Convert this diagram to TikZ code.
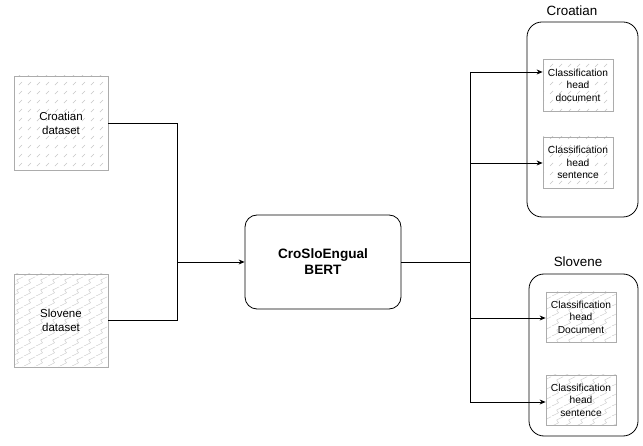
\documentclass[tikz,border=0pt]{standalone}
\usepackage{fontspec}
\setmainfont{Liberation Sans}
\usetikzlibrary{patterns.meta,arrows.meta,calc}
\tikzdeclarepattern{
  name=hatchdash, type=uncolored,
  bottom left={(0pt,0pt)}, top right={(9pt,9pt)}, tile size={(9pt,9pt)},
  code={\draw[line width=0.5pt] (1pt,1pt) -- (4.5pt,4.5pt);}
}
\tikzdeclarepattern{
  name=zigzagp, type=uncolored,
  bottom left={(0pt,0pt)}, top right={(12pt,10pt)}, tile size={(12pt,10pt)},
  code={\draw[line width=0.5pt] (0pt,0pt) -- (7pt,3.5pt) -- (5pt,6.5pt) -- (12pt,10pt);}
}
\tikzset{
  databox/.style={draw=gray!65, line width=0.8pt, inner sep=0pt, align=center,
    font=\fontsize{11.5}{14}\selectfont, minimum width=94pt},
  headbox/.style={draw=gray!65, line width=0.8pt, inner sep=0pt, align=center,
    font=\fontsize{10.2}{12.5}\selectfont, minimum width=70pt, minimum height=51pt},
  crpat/.style={pattern=hatchdash, pattern color=gray!45},
  slpat/.style={pattern=zigzagp, pattern color=gray!40},
  groupbox/.style={draw=black, line width=0.8pt, rounded corners=15pt, inner sep=0pt},
  grouptitle/.style={font=\fontsize{13.4}{16}\selectfont, inner sep=0pt},
  bertbox/.style={draw=black, line width=0.8pt, rounded corners=12pt, inner sep=0pt,
    align=center, font=\bfseries\fontsize{13.6}{16}\selectfont,
    minimum width=156pt, minimum height=94pt},
  conn/.style={draw=black, line width=0.8pt},
  arr/.style={conn, -{Stealth[length=6pt,width=5pt]}}
}
\begin{document}
\begin{tikzpicture}[x=1pt,y=-1pt]
\useasboundingbox (0,0) rectangle (643,446);
% datasets
\node[databox, crpat, minimum height=94pt] (crods) at (61,123) {Croatian\\dataset};
\node[databox, slpat, minimum height=93pt] (slods) at (61,320.5) {Slovene\\dataset};
% model
\node[bertbox] (bert) at (323,262) {CroSloEngual\\BERT};
% groups
\node[groupbox, minimum width=111pt, minimum height=195pt] (crg) at (582.5,119.5) {};
\node[groupbox, minimum width=109pt, minimum height=162pt] (slg) at (583.5,355) {};
\node[grouptitle] (crt) at (572,11) {Croatian};
\node[grouptitle] (slt) at (578,262) {Slovene};
% heads
\node[headbox, crpat, minimum height=52pt] (h1) at (578,85) {Classification\\head\\document};
\node[headbox, crpat] (h2) at (578,162.5) {Classification\\head\\sentence};
\node[headbox, slpat, minimum height=50pt] (h3) at (581,317) {Classification\\head\\Document};
\node[headbox, slpat, minimum height=50pt] (h4) at (581,400) {Classification\\head\\sentence};
% left connectors
\coordinate (jl) at (177,262);
\draw[conn] (crods.east) -| (jl);
\draw[conn] (slods.east) -| (jl);
\draw[arr] (jl) -- (bert.west);
% right connectors
\coordinate (jr) at (470,262);
\coordinate (t1) at (470,72);
\coordinate (t2) at (470,163);
\coordinate (t3) at (470,318);
\coordinate (t4) at (470,402);
\draw[conn] (bert.east) -- (jr);
\draw[conn] (t1) -- (t4);
\draw[arr] (t1) -- (t1 -| h1.west);
\draw[arr] (t2) -- (t2 -| h2.west);
\draw[arr] (t3) -- (t3 -| h3.west);
\draw[arr] (t4) -- (t4 -| h4.west);
\end{tikzpicture}
\end{document}
